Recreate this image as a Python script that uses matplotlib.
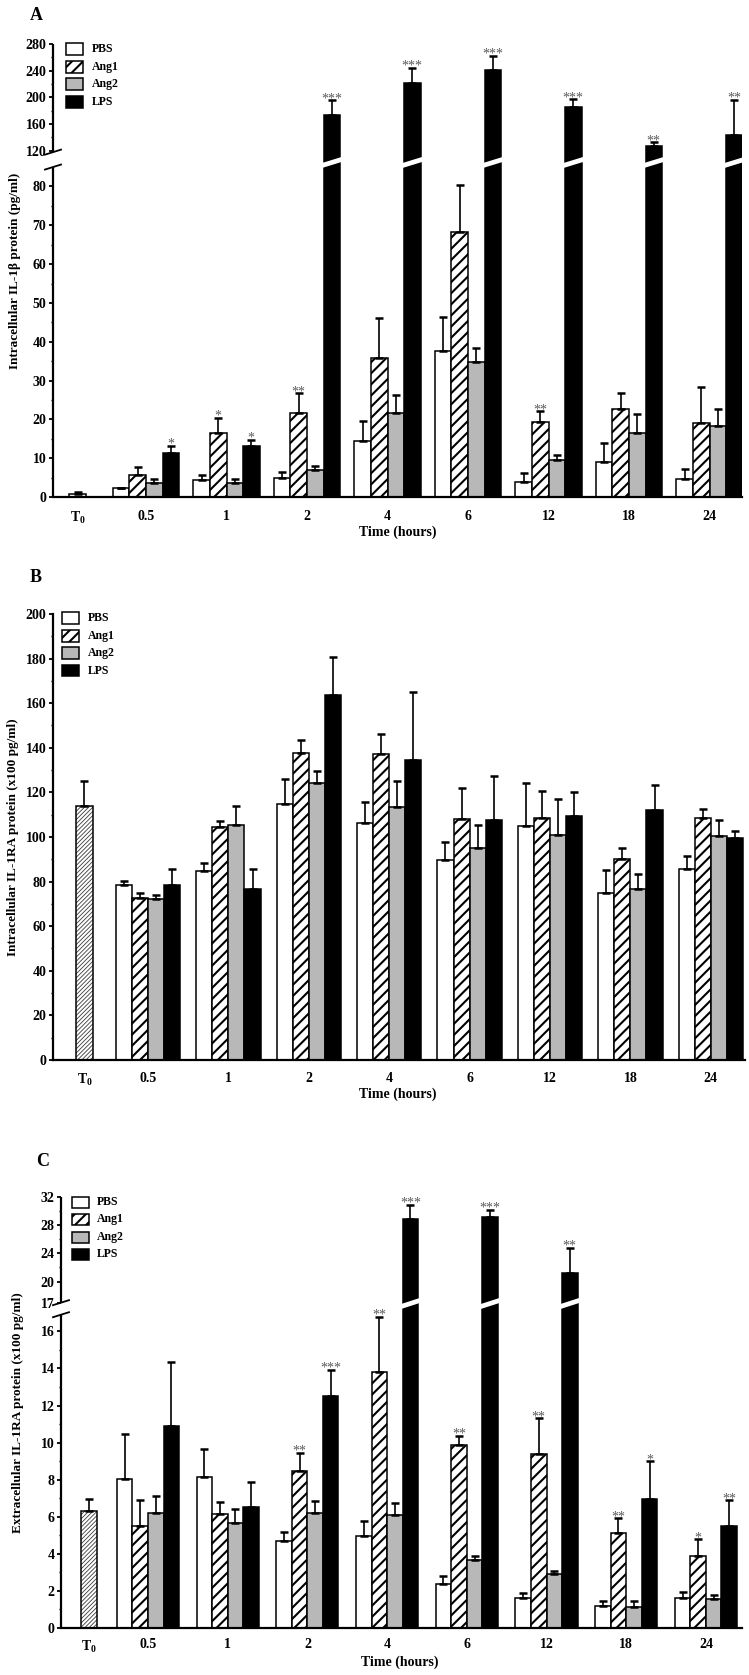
import numpy as np
import matplotlib
matplotlib.use("Agg")
import matplotlib.pyplot as plt
from matplotlib.lines import Line2D
from matplotlib.patches import Polygon, Rectangle
from matplotlib.transforms import IdentityTransform

plt.rcParams['font.family'] = ['Liberation Serif', 'DejaVu Serif']
plt.rcParams['font.weight'] = 'bold'
plt.rcParams['mathtext.fontset'] = 'custom'
plt.rcParams['mathtext.rm'] = 'Liberation Serif:bold'
plt.rcParams['mathtext.bf'] = 'Liberation Serif:bold'
plt.rcParams['mathtext.it'] = 'Liberation Serif:bold'
plt.rcParams['mathtext.default'] = 'rm'
plt.rcParams['hatch.linewidth'] = 1.5

# ---------------- data ----------------
time_labels = ['0.5', '1', '2', '4', '6', '12', '18', '24']
t0_label = r'T$_0$'
series_names = ['PBS', 'Ang1', 'Ang2', 'LPS']

# Panel A : intracellular IL-1beta (pg/ml)
a_t0, a_t0_err = 0.9, 0.3
a_pbs = [2.2, 4.4, 4.9, 14.4, 37.6, 3.8, 8.9, 4.7]
a_pbs_err = [0.2, 1.3, 1.5, 5.2, 8.8, 2.4, 4.9, 2.6]
a_ang1 = [5.7, 16.4, 21.7, 35.8, 68.3, 19.2, 22.6, 19.0]
a_ang1_err = [2.0, 4.0, 5.1, 10.2, 12.1, 2.9, 4.3, 9.4]
a_ang2 = [3.7, 3.7, 7.0, 21.7, 34.8, 9.6, 16.4, 18.4]
a_ang2_err = [1.0, 1.0, 1.1, 4.7, 3.6, 1.1, 4.9, 4.2]
a_lps = [11.3, 13.1, 174, 222, 241.5, 186, 127.5, 144]
a_lps_err = [1.9, 1.6, 21.5, 22.5, 21.0, 11.5, 5.0, 52.5]
a_ang1_stars = ['', '*', '**', '', '', '**', '', '']
a_lps_stars = ['*', '*', '***', '***', '***', '***', '**', '**']

# Panel B : intracellular IL-1RA (x100 pg/ml)
b_t0, b_t0_err = 113.9, 11.3
b_pbs = [78.5, 84.8, 114.9, 106.4, 89.7, 105.0, 75.0, 85.6]
b_pbs_err = [1.9, 3.4, 11.1, 9.1, 8.2, 19.4, 10.1, 6.0]
b_ang1 = [72.5, 104.6, 137.5, 137.0, 107.9, 108.6, 90.1, 108.6]
b_ang1_err = [2.5, 2.7, 6.0, 9.2, 14.0, 12.0, 4.8, 4.0]
b_ang2 = [72.0, 105.6, 124.0, 113.6, 94.9, 100.9, 76.6, 100.6]
b_ang2_err = [2.0, 8.4, 5.6, 11.5, 10.7, 16.1, 7.0, 7.0]
b_lps = [78.5, 76.6, 163.7, 134.5, 107.5, 109.3, 112.1, 99.4]
b_lps_err = [7.0, 8.9, 16.9, 30.6, 19.8, 11.0, 11.2, 3.4]

# Panel C : extracellular IL-1RA (x100 pg/ml)
c_t0, c_t0_err = 6.3, 0.65
c_pbs = [8.05, 8.13, 4.67, 4.98, 2.36, 1.6, 1.19, 1.6]
c_pbs_err = [2.44, 1.55, 0.53, 0.81, 0.47, 0.28, 0.27, 0.33]
c_ang1 = [5.5, 6.16, 8.45, 13.8, 9.89, 9.39, 5.12, 3.86]
c_ang1_err = [1.43, 0.62, 1.0, 3.0, 0.49, 1.94, 0.81, 0.94]
c_ang2 = [6.23, 5.69, 6.23, 6.07, 3.67, 2.9, 1.15, 1.55]
c_ang2_err = [0.9, 0.72, 0.6, 0.7, 0.23, 0.2, 0.31, 0.23]
c_lps = [10.9, 6.55, 12.5, 28.9, 29.1, 21.2, 6.96, 5.48]
c_lps_err = [3.46, 1.32, 1.44, 2.0, 1.1, 3.6, 2.04, 1.41]
c_ang1_stars = ['', '', '**', '**', '**', '**', '**', '*']
c_lps_stars = ['', '', '***', '***', '***', '**', '*', '**']

# ---------------- style ----------------
W, H = 749, 1675
fig = plt.figure(figsize=(W / 100, H / 100), dpi=100)

FACE = ['white', 'white', '#b8b8b8', 'black']
HATCH = [None, '///', None, None]
LW = 1.1
STAR_COLOR = '#5a5a5a'


def pw(x, xp, fp):
    x = np.asarray(x, float)
    xp = np.asarray(xp, float)
    fp = np.asarray(fp, float)
    y = np.interp(x, xp, fp)
    y = np.where(x < xp[0], fp[0] + (x - xp[0]) * (fp[1] - fp[0]) / (xp[1] - xp[0]), y)
    y = np.where(x > xp[-1], fp[-1] + (x - xp[-1]) * (fp[-1] - fp[-2]) / (xp[-1] - xp[-2]), y)
    return y


def draw_panel(L, t0_val, t0_err, t0_kind, vals, errs, stars, ylabel, letter):
    ax = fig.add_axes([L['left'] / W, 1 - L['bottom'] / H,
                       (L['right'] - L['left']) / W, (L['bottom'] - L['top']) / H])
    bw = L['bw']
    xl = (L['left'] - L['c0']) / L['step']
    xr = (L['right'] - L['c0']) / L['step']
    ax.set_xlim(xl, xr)
    if L.get('brk'):
        bv, bf = L['brk']
        ax.set_yscale('function', functions=(lambda v: pw(v, bv, bf), lambda f: pw(f, bf, bv)))
    ax.set_ylim(*L['ylim'])

    x = np.arange(len(time_labels))
    for k in range(4):
        pos = x + (k - 1.5) * bw
        ax.bar(pos, vals[k], bw, color=FACE[k], edgecolor='black', linewidth=LW,
               hatch=HATCH[k], zorder=2)
        ax.errorbar(pos, vals[k], yerr=[np.zeros(len(pos)), errs[k]], fmt='none',
                    ecolor='black', elinewidth=1.2, capsize=3, capthick=1.8, zorder=3)
        if stars[k] is not None:
            for p, v, e, s in zip(pos, vals[k], errs[k], stars[k]):
                if s:
                    ax.annotate(s, xy=(p, v + e), xytext=(0, -1.5), textcoords='offset points',
                                ha='center', va='baseline', fontsize=10, fontweight='normal',
                                color=STAR_COLOR, zorder=4)
    # T0 bar
    t0x = L['t0']
    if t0_kind == 'pbs':
        ax.bar(t0x, t0_val, bw, color='white', edgecolor='black', linewidth=LW, zorder=2)
    else:
        hb = ax.bar(t0x, t0_val, bw, color='white', edgecolor='#3a3a3a', linewidth=0,
                    hatch='////////', zorder=2)
        for p in hb.patches:
            if hasattr(p, 'set_hatch_linewidth'):
                p.set_hatch_linewidth(0.6)
        ax.bar(t0x, t0_val, bw, fill=False, edgecolor='black', linewidth=LW, zorder=2.5)
    ax.errorbar([t0x], [t0_val], yerr=[[0], [t0_err]], fmt='none', ecolor='black',
                elinewidth=1.2, capsize=3, capthick=1.8, zorder=3)

    # axes styling
    for s in ['top', 'right']:
        ax.spines[s].set_visible(False)
    ax.spines['bottom'].set_linewidth(1.6)
    ax.spines['left'].set_linewidth(1.6)
    ax.set_xticks([t0x] + list(x))
    ax.set_xticklabels([t0_label] + time_labels, fontsize=10, fontweight='bold')
    ax.tick_params(axis='x', length=0, pad=L['xpad'])
    ax.set_yticks(L['yticks'])
    ax.set_yticklabels([str(t) for t in L['yticks']], fontsize=10, fontweight='bold')
    ax.set_yticks(L['yminor'], minor=True)
    ax.tick_params(axis='y', which='major', length=3.2, width=1.3, pad=1.5, direction='out')
    ax.tick_params(axis='y', which='minor', length=1.8, width=1.0, direction='out')

    fig.text(L['ylab_x'] / W, 1 - (L['top'] + L['bottom']) / 2 / H, ylabel, rotation=90,
             ha='center', va='center', fontsize=9.5, fontweight='bold')
    fig.text(L['xlab'][0] / W, 1 - L['xlab'][1] / H, 'Time (hours)', ha='center',
             va='center', fontsize=10, fontweight='bold')
    fig.text(L['letter'][0] / W, 1 - L['letter'][1] / H, letter, ha='center', va='center',
             fontsize=13, fontweight='bold')

    # broken axis
    if L.get('brk'):
        ax.spines['left'].set_visible(False)
        lo_top, hi_bot = L['seg']
        tr = ax.get_yaxis_transform()
        ax.plot([0, 0], [0, lo_top], transform=tr, color='black', lw=1.6, clip_on=False,
                solid_capstyle='butt', zorder=5)
        ax.plot([0, 0], [hi_bot, L['ylim'][1]], transform=tr, color='black', lw=1.6,
                clip_on=False, solid_capstyle='butt', zorder=5)
        for v in (lo_top, hi_bot):
            px, py = ax.transData.transform((xl, v))
            fig.add_artist(Line2D([px - 8, px + 8], [py - 2.5, py + 2.5],
                                  transform=IdentityTransform(), color='black', lw=1.3))
        # white slashes across bars that cross the break
        sy = (H - L['slash_y'])
        for k in range(4):
            pos = x + (k - 1.5) * bw
            for p, v in zip(pos, vals[k]):
                if v > hi_bot:
                    x0, _ = ax.transData.transform((p - bw / 2, 1))
                    x1, _ = ax.transData.transform((p + bw / 2, 1))
                    x0 -= 1.5
                    x1 += 1.5
                    poly = Polygon([[x0, sy - 5], [x1, sy + 1], [x1, sy + 6], [x0, sy]],
                                   closed=True, transform=IdentityTransform(),
                                   facecolor='white', edgecolor='none', zorder=6)
                    fig.add_artist(poly)

    # legend
    lg = L['legend']
    for i, name in enumerate(series_names):
        yc = lg['rows'][i]
        r = Rectangle((lg['bx'] / W, 1 - (yc + 5.5) / H), 17 / W, 11 / H,
                      transform=fig.transFigure, facecolor=FACE[i], edgecolor='black',
                      linewidth=LW, hatch=HATCH[i])
        fig.add_artist(r)
        fig.text(lg['tx'] / W, 1 - yc / H, name, ha='left', va='center', fontsize=8.5,
                 fontweight='bold')
    return ax


LA = dict(left=53, top=44, right=742, bottom=497, c0=146, step=80.5, bw=0.205, t0=-0.85,
          brk=([0, 85, 118, 280], [0, 85, 88.84, 116.7]), seg=(85, 118), slash_y=163,
          ylim=(0, 280), yticks=[0, 10, 20, 30, 40, 50, 60, 70, 80, 120, 160, 200, 240, 280],
          yminor=[5, 15, 25, 35, 45, 55, 65, 75, 140, 180, 220, 260],
          xpad=9, ylab_x=15, xlab=(398, 532), letter=(36, 15),
          legend=dict(bx=66, tx=92, rows=[49, 67, 84, 102]))
LB = dict(left=53, top=614, right=745, bottom=1060, c0=148, step=80.4, bw=0.2, t0=-0.79,
          ylim=(0, 200), yticks=list(range(0, 201, 20)), yminor=list(range(10, 200, 20)),
          xpad=8.5, ylab_x=13, xlab=(398, 1094), letter=(36, 578),
          legend=dict(bx=62, tx=88, rows=[618, 636, 653, 671]))
LC = dict(left=61, top=1197, right=742, bottom=1628, c0=148, step=79.7, bw=0.195, t0=-0.74,
          brk=([0, 16.9, 17, 32], [0, 16.9, 17.55, 23.25]), seg=(16.9, 17), slash_y=1304,
          ylim=(0, 32), yticks=[0, 2, 4, 6, 8, 10, 12, 14, 16, 17, 20, 24, 28, 32],
          yminor=[1, 3, 5, 7, 9, 11, 13, 15, 22, 26, 30],
          xpad=7.5, ylab_x=18, xlab=(400, 1662), letter=(43, 1162),
          legend=dict(bx=72, tx=97, rows=[1202, 1219, 1237, 1254]))

draw_panel(LA, a_t0, a_t0_err, 'pbs',
           [a_pbs, a_ang1, a_ang2, a_lps], [a_pbs_err, a_ang1_err, a_ang2_err, a_lps_err],
           [None, a_ang1_stars, None, a_lps_stars],
           'Intracellular IL-1β protein (pg/ml)', 'A')
draw_panel(LB, b_t0, b_t0_err, 'hatch',
           [b_pbs, b_ang1, b_ang2, b_lps], [b_pbs_err, b_ang1_err, b_ang2_err, b_lps_err],
           [None, None, None, None],
           'Intracellular IL-1RA protein (x100 pg/ml)', 'B')
draw_panel(LC, c_t0, c_t0_err, 'hatch',
           [c_pbs, c_ang1, c_ang2, c_lps], [c_pbs_err, c_ang1_err, c_ang2_err, c_lps_err],
           [None, c_ang1_stars, None, c_lps_stars],
           'Extracellular IL-1RA protein (x100 pg/ml)', 'C')

fig.savefig('out.png', dpi=100)
